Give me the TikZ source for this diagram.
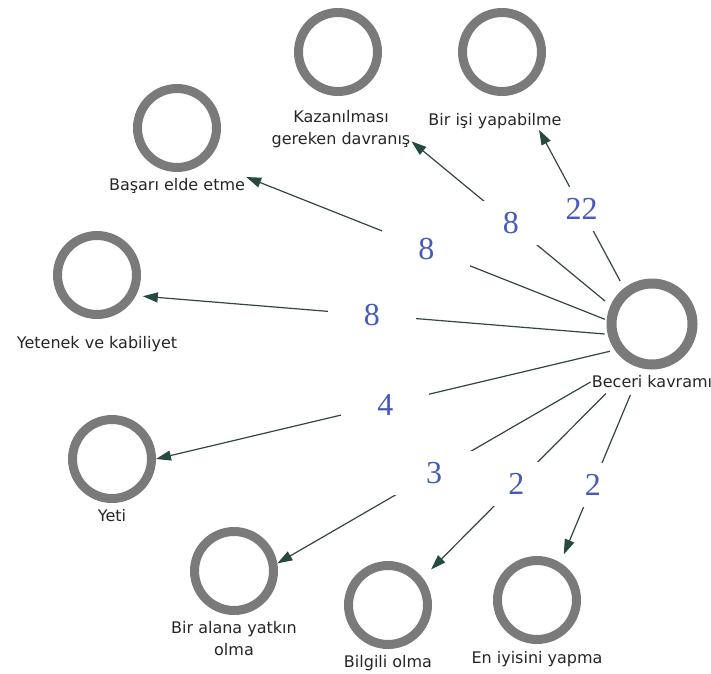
\documentclass[tikz,border=0pt]{standalone}
\usepackage{fontspec}
\setmainfont{DejaVu Sans}
\newfontfamily\numfont{Liberation Serif}
\usetikzlibrary{positioning, arrows.meta, calc}
\definecolor{ring}{HTML}{7A7A7A}
\definecolor{wire}{HTML}{34453F}
\definecolor{tip}{HTML}{264A42}
\definecolor{numblue}{HTML}{4659BD}

\begin{document}
\begin{tikzpicture}[x=1pt, y=-1pt, font=\fontsize{16}{22}\selectfont,
  ringnode/.style={circle, draw=ring, line width=9pt, minimum size=79pt, inner sep=0pt},
  hub/.style={ringnode, line width=10pt, minimum size=81pt},
  caption/.style={inner sep=1pt, align=center, text=black!85},
  link/.style={wire, line width=1.2pt, -{Triangle[length=15pt, width=10pt, color=tip]}},
  tally/.style={fill=white, minimum width=88pt, minimum height=44pt, inner sep=0pt,
    font=\numfont\fontsize{32}{32}\selectfont, text=numblue}
]
  \useasboundingbox (0,0) rectangle (711,673);

  % circles
  \node[hub] (bec) at (652,324) {};
  \node[ringnode] (yap) at (502,52) {};
  \node[ringnode] (kaz) at (338,52) {};
  \node[ringnode] (bas) at (177,128) {};
  \node[ringnode] (yet) at (97,275) {};
  \node[ringnode] (yeti) at (112,459) {};
  \node[ringnode] (alan) at (234,571) {};
  \node[ringnode] (bil) at (388,605) {};
  \node[ringnode] (eni) at (537,600) {};

  % captions under the circles
  \node[caption, below=5pt of bec] (bec-t) {Beceri kavramı};
  \node[caption, below=16pt of yap, xshift=-7pt] (yap-t) {Bir işi yapabilme};
  \node[caption, below=13pt of kaz, xshift=3pt] (kaz-t) {Kazanılması\\gereken davranış};
  \node[caption, below=5pt of bas] (bas-t) {Başarı elde etme};
  \node[caption, below=16pt of yet] (yet-t) {Yetenek ve kabiliyet};
  \node[caption, below=5pt of yeti] (yeti-t) {Yeti};
  \node[caption, below=5pt of alan] (alan-t) {Bir alana yatkın\\olma};
  \node[caption, below=5pt of bil] (bil-t) {Bilgili olma};
  \node[caption, below=6pt of eni] (eni-t) {En iyisini yapma};

  % links with their counts
  \draw[link, shorten <=8pt] (bec.128) -- node[tally] {22} ($(yap-t.south)!0.65!(yap-t.south east)$);
  \draw[link, shorten <=7pt] (bec.156) -- node[tally] {8} (kaz-t.-10);
  \draw[link, shorten <=2pt] (bec.175) -- node[tally] {8} (bas-t.north east);
  \draw[link, shorten <=3pt, shorten >=7pt] (bec.193) -- node[tally] {8} (yet.-28);
  \draw[link, shorten <=5pt] (bec.215) -- node[tally] {4} (yeti.east);
  \draw[link] (bec-t.west) -- node[tally] {3} (alan.10);
  \draw[link, shorten <=6pt, shorten >=12pt] (bec-t.-170) -- node[tally] {2} (bil.38);
  \draw[link, shorten <=6pt, shorten >=9pt] (bec-t.-159) -- node[tally, pos=0.55] {2} (eni.58);
\end{tikzpicture}
\end{document}
